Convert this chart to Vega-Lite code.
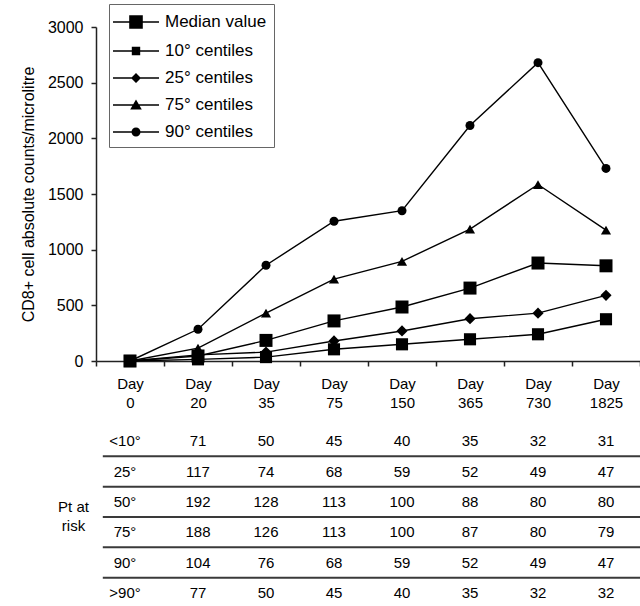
{
  "$schema": "https://vega.github.io/schema/vega-lite/v6.json",
  "padding": {"left": 20, "top": 3, "right": 0, "bottom": 0},
  "background": "white",
  "config": {
    "font": "Liberation Sans",
    "view": {"stroke": null},
    "axis": {"labelFont": "Liberation Sans", "titleFont": "Liberation Sans", "labelColor": "black", "titleColor": "black", "grid": false}
  },
  "datasets": {
    "curves": [
      {"series": "Median value", "day": "0", "v": 0},
      {"series": "Median value", "day": "20", "v": 45},
      {"series": "Median value", "day": "35", "v": 185},
      {"series": "Median value", "day": "75", "v": 360},
      {"series": "Median value", "day": "150", "v": 485},
      {"series": "Median value", "day": "365", "v": 655},
      {"series": "Median value", "day": "730", "v": 880},
      {"series": "Median value", "day": "1825", "v": 855},
      {"series": "10° centiles", "day": "0", "v": 0},
      {"series": "10° centiles", "day": "20", "v": 15},
      {"series": "10° centiles", "day": "35", "v": 35},
      {"series": "10° centiles", "day": "75", "v": 105},
      {"series": "10° centiles", "day": "150", "v": 150},
      {"series": "10° centiles", "day": "365", "v": 195},
      {"series": "10° centiles", "day": "730", "v": 240},
      {"series": "10° centiles", "day": "1825", "v": 375},
      {"series": "25° centiles", "day": "0", "v": 0},
      {"series": "25° centiles", "day": "20", "v": 55},
      {"series": "25° centiles", "day": "35", "v": 80},
      {"series": "25° centiles", "day": "75", "v": 180},
      {"series": "25° centiles", "day": "150", "v": 270},
      {"series": "25° centiles", "day": "365", "v": 380},
      {"series": "25° centiles", "day": "730", "v": 430},
      {"series": "25° centiles", "day": "1825", "v": 590},
      {"series": "75° centiles", "day": "0", "v": 0},
      {"series": "75° centiles", "day": "20", "v": 115},
      {"series": "75° centiles", "day": "35", "v": 430},
      {"series": "75° centiles", "day": "75", "v": 735},
      {"series": "75° centiles", "day": "150", "v": 895},
      {"series": "75° centiles", "day": "365", "v": 1185},
      {"series": "75° centiles", "day": "730", "v": 1585},
      {"series": "75° centiles", "day": "1825", "v": 1175},
      {"series": "90° centiles", "day": "0", "v": 0},
      {"series": "90° centiles", "day": "20", "v": 285},
      {"series": "90° centiles", "day": "35", "v": 860},
      {"series": "90° centiles", "day": "75", "v": 1255},
      {"series": "90° centiles", "day": "150", "v": 1350},
      {"series": "90° centiles", "day": "365", "v": 2115},
      {"series": "90° centiles", "day": "730", "v": 2680},
      {"series": "90° centiles", "day": "1825", "v": 1730}
    ],
    "risk": [
      {"row": "<10°", "day": "20", "n": 71}, {"row": "<10°", "day": "35", "n": 50}, {"row": "<10°", "day": "75", "n": 45}, {"row": "<10°", "day": "150", "n": 40}, {"row": "<10°", "day": "365", "n": 35}, {"row": "<10°", "day": "730", "n": 32}, {"row": "<10°", "day": "1825", "n": 31},
      {"row": "25°", "day": "20", "n": 117}, {"row": "25°", "day": "35", "n": 74}, {"row": "25°", "day": "75", "n": 68}, {"row": "25°", "day": "150", "n": 59}, {"row": "25°", "day": "365", "n": 52}, {"row": "25°", "day": "730", "n": 49}, {"row": "25°", "day": "1825", "n": 47},
      {"row": "50°", "day": "20", "n": 192}, {"row": "50°", "day": "35", "n": 128}, {"row": "50°", "day": "75", "n": 113}, {"row": "50°", "day": "150", "n": 100}, {"row": "50°", "day": "365", "n": 88}, {"row": "50°", "day": "730", "n": 80}, {"row": "50°", "day": "1825", "n": 80},
      {"row": "75°", "day": "20", "n": 188}, {"row": "75°", "day": "35", "n": 126}, {"row": "75°", "day": "75", "n": 113}, {"row": "75°", "day": "150", "n": 100}, {"row": "75°", "day": "365", "n": 87}, {"row": "75°", "day": "730", "n": 80}, {"row": "75°", "day": "1825", "n": 79},
      {"row": "90°", "day": "20", "n": 104}, {"row": "90°", "day": "35", "n": 76}, {"row": "90°", "day": "75", "n": 68}, {"row": "90°", "day": "150", "n": 59}, {"row": "90°", "day": "365", "n": 52}, {"row": "90°", "day": "730", "n": 49}, {"row": "90°", "day": "1825", "n": 47},
      {"row": ">90°", "day": "20", "n": 77}, {"row": ">90°", "day": "35", "n": 50}, {"row": ">90°", "day": "75", "n": 45}, {"row": ">90°", "day": "150", "n": 40}, {"row": ">90°", "day": "365", "n": 35}, {"row": ">90°", "day": "730", "n": 32}, {"row": ">90°", "day": "1825", "n": 32}
    ],
    "rowlabels": [
      {"row": "<10°"}, {"row": "25°"}, {"row": "50°"}, {"row": "75°"}, {"row": "90°"}, {"row": ">90°"}
    ]
  },
  "spacing": 16,
  "vconcat": [
    {
      "width": 544,
      "height": 334,
      "layer": [
        {
          "data": {"name": "curves"},
          "mark": {"type": "line", "color": "black", "strokeWidth": 1.4},
          "encoding": {
            "x": {
              "field": "day", "type": "ordinal",
              "sort": ["0", "20", "35", "75", "150", "365", "730", "1825"],
              "scale": {"type": "band", "paddingInner": 0, "paddingOuter": 0},
              "axis": {"title": null, "labelAngle": 0, "labelExpr": "datum.label ? ['Day', datum.label] : ''", "labelLineHeight": 19, "labelFontSize": 15, "labelPadding": 10, "tickBand": "extent", "tickSize": 5, "domainColor": "#222", "tickColor": "#222", "domainWidth": 1.5, "tickWidth": 1.5}
            },
            "y": {
              "field": "v", "type": "quantitative",
              "scale": {"domain": [0, 3000], "nice": false},
              "axis": {"title": "CD8+ cell absolute counts/microlitre", "format": "d", "values": [0, 500, 1000, 1500, 2000, 2500, 3000], "tickSize": 5, "labelPadding": 8, "titlePadding": 11, "titleFontWeight": "normal", "titleFontSize": 16, "labelFontSize": 16, "domainColor": "#222", "tickColor": "#222", "domainWidth": 1.5, "tickWidth": 1.5}
            },
            "detail": {"field": "series"}
          }
        },
        {
          "data": {"name": "curves"},
          "mark": {"type": "point", "filled": true, "color": "black", "opacity": 1},
          "encoding": {
            "x": {"field": "day", "type": "ordinal", "sort": ["0", "20", "35", "75", "150", "365", "730", "1825"]},
            "y": {"field": "v", "type": "quantitative"},
            "shape": {"field": "series", "scale": {"domain": ["Median value", "10° centiles", "25° centiles", "75° centiles", "90° centiles"], "range": ["square", "square", "diamond", "triangle-up", "circle"]}, "legend": null},
            "size": {"field": "series", "type": "nominal", "scale": {"domain": ["Median value", "10° centiles", "25° centiles", "75° centiles", "90° centiles"], "range": [169, 81, 100, 130, 81]}, "legend": null}
          }
        },
        {
          "data": {"name": "curves"},
          "transform": [{"filter": "false"}],
          "mark": {"type": "point", "filled": true, "color": "black", "opacity": 1, "size": 400},
          "encoding": {
            "x": {"field": "day", "type": "ordinal", "sort": ["0", "20", "35", "75", "150", "365", "730", "1825"]},
            "y": {"field": "v", "type": "quantitative"},
            "shape": {
              "field": "series",
              "scale": {
                "domain": ["Median value", "10° centiles", "25° centiles", "75° centiles", "90° centiles"],
                "range": [
                  "M-2.3,-0.075H2.3V0.075H-2.3ZM-0.68,-0.68H0.68V0.68H-0.68Z",
                  "M-2.3,-0.075H2.3V0.075H-2.3ZM-0.42,-0.42H0.42V0.42H-0.42Z",
                  "M-2.3,-0.075H2.3V0.075H-2.3ZM0,-0.5L0.5,0L0,0.5L-0.5,0Z",
                  "M-2.3,-0.075H2.3V0.075H-2.3ZM0,-0.55L0.58,0.45L-0.58,0.45Z",
                  "M-2.3,-0.075H2.3V0.075H-2.3ZM-0.45,0A0.45,0.45 0 1,1 0.45,0A0.45,0.45 0 1,1 -0.45,0Z"
                ]
              },
              "legend": {
                "orient": "none", "legendX": 13, "legendY": -23, "title": null,
                "padding": 7, "strokeColor": "#666", "fillColor": "white",
                "symbolSize": 400, "symbolFillColor": "black",
                "symbolOffset": 9, "labelOffset": 18, "labelFontSize": 17, "labelFont": "Liberation Sans", "labelColor": "black",
                "rowPadding": 8, "labelLimit": 300,
                "encode": {"legend": {"update": {"strokeWidth": {"value": 1.6}}}}
              }
            }
          }
        }
      ],
      "resolve": {"scale": {"shape": "independent", "size": "independent"}, "legend": {"shape": "independent"}}
    },
    {
      "width": 544,
      "height": 182,
      "layer": [
        {
          "data": {"name": "risk"},
          "mark": {"type": "text", "fontSize": 15, "color": "black"},
          "encoding": {
            "x": {"field": "day", "type": "ordinal", "sort": ["0", "20", "35", "75", "150", "365", "730", "1825"], "scale": {"type": "band", "paddingInner": 0, "paddingOuter": 0, "domain": ["0", "20", "35", "75", "150", "365", "730", "1825"]}, "axis": null},
            "y": {"field": "row", "type": "ordinal", "sort": ["<10°", "25°", "50°", "75°", "90°", ">90°"], "scale": {"type": "band", "paddingInner": 0, "paddingOuter": 0}, "axis": {"title": ["Pt at", "risk"], "titleAngle": 0, "titleAlign": "center", "titleBaseline": "middle", "titleX": -23, "titleY": 80, "labels": false, "ticks": false, "domain": false, "titleFontWeight": "normal", "titleFontSize": 15, "titleLineHeight": 19}},
            "text": {"field": "n"}
          }
        },
        {
          "data": {"name": "rowlabels"},
          "mark": {"type": "text", "fontSize": 15, "color": "black", "dx": -5},
          "encoding": {
            "x": {"datum": "0", "type": "ordinal"},
            "y": {"field": "row", "type": "ordinal", "sort": ["<10°", "25°", "50°", "75°", "90°", ">90°"]},
            "text": {"field": "row"}
          }
        },
        {
          "data": {"name": "rowlabels"},
          "transform": [{"filter": "datum.row !== '<10°'"}],
          "mark": {"type": "rule", "color": "#3a3a3a", "strokeWidth": 2},
          "encoding": {
            "x": {"datum": "0", "type": "ordinal", "bandPosition": 0.1},
            "x2": {"value": "width"},
            "y": {"field": "row", "type": "ordinal", "sort": ["<10°", "25°", "50°", "75°", "90°", ">90°"], "bandPosition": 0}
          }
        }
      ]
    }
  ]
}
